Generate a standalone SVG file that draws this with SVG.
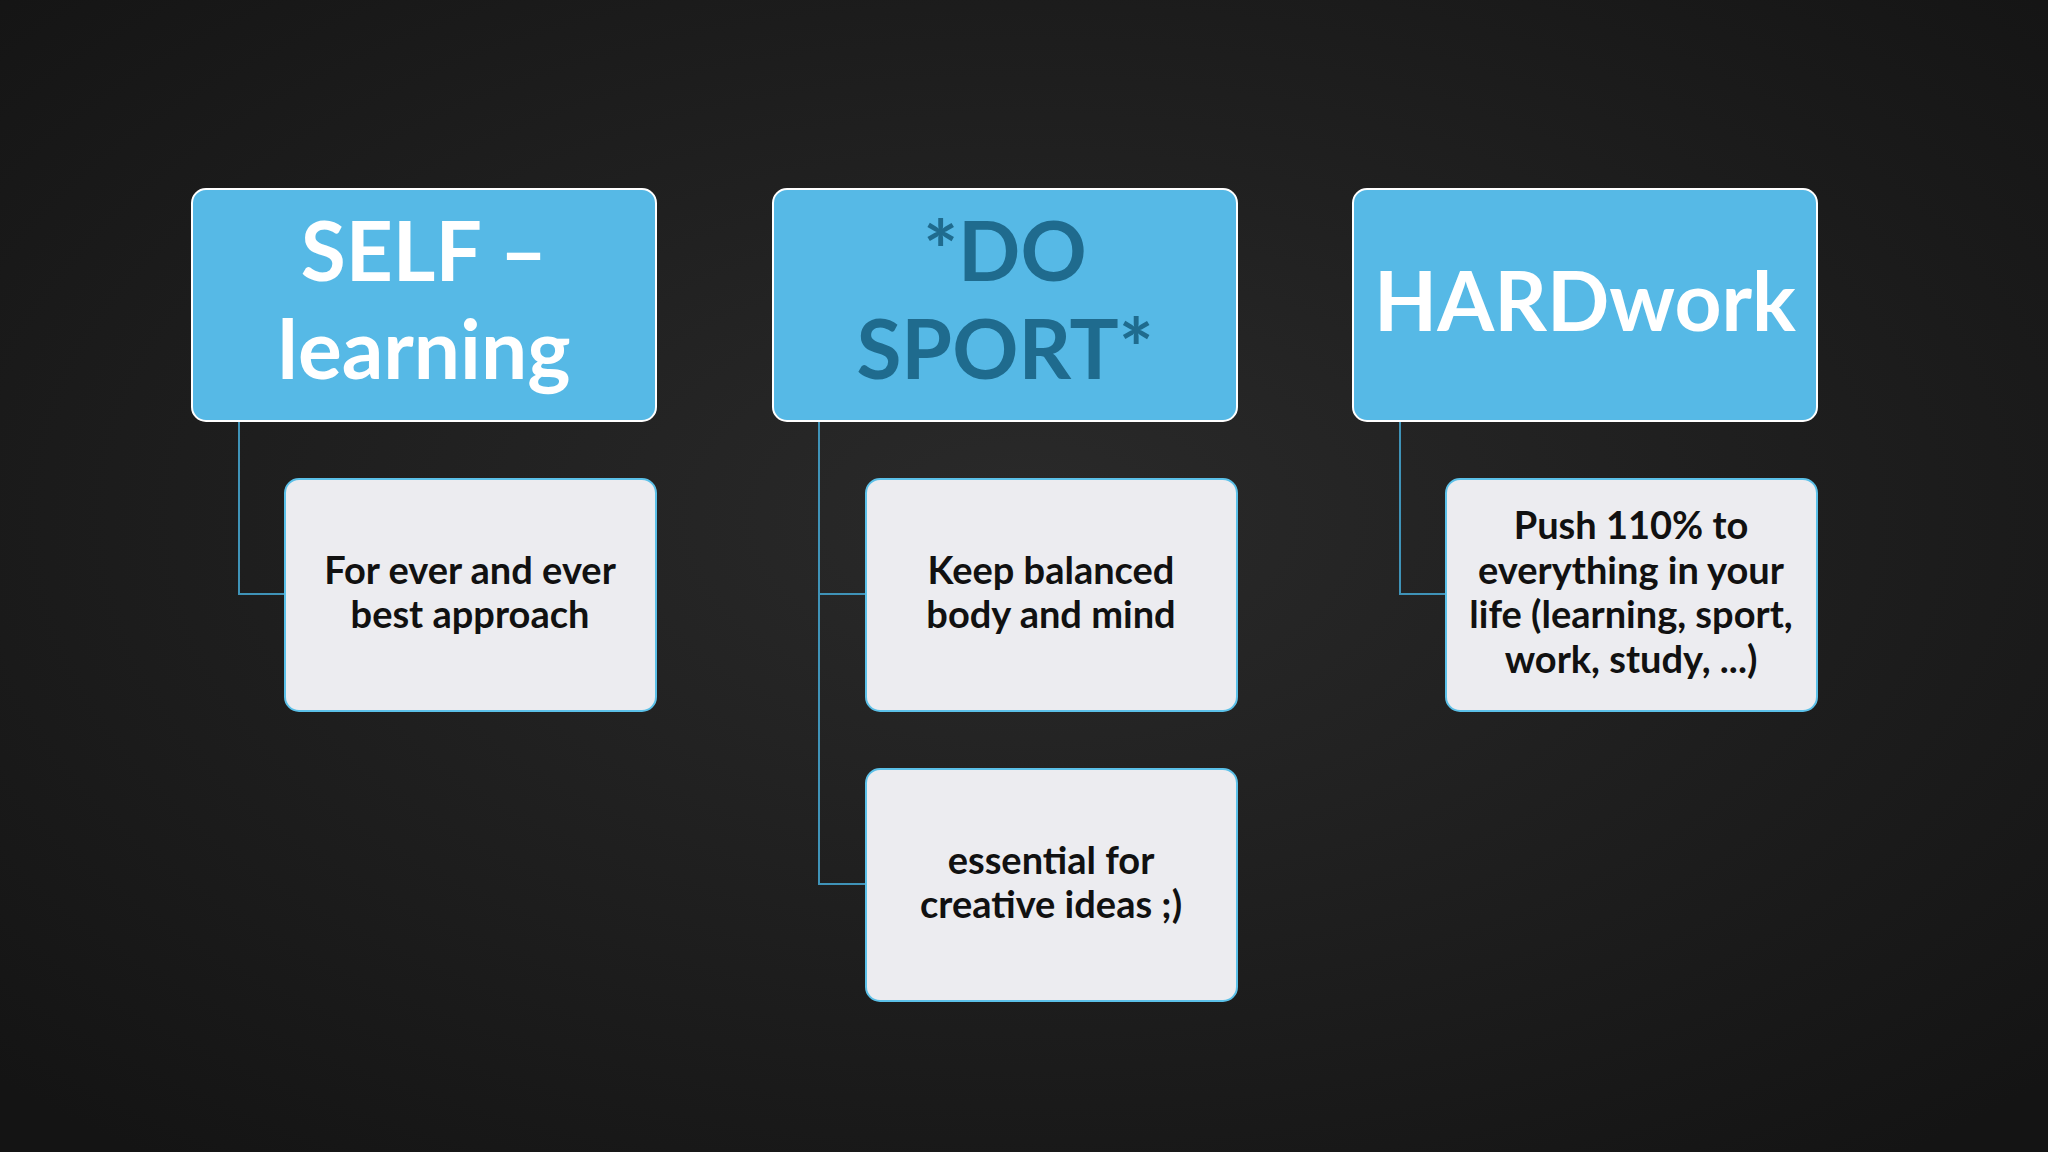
<svg xmlns="http://www.w3.org/2000/svg" width="2048" height="1152" viewBox="0 0 2048 1152">
<defs>
<radialGradient id="bg" cx="50%" cy="45%" r="70%">
<stop offset="0" stop-color="#2a2a2a"/><stop offset="1" stop-color="#141414"/>
</radialGradient>
<style>
.head{fill:#56b9e6;stroke:#ffffff;stroke-width:2}
.child{fill:#ececf0;stroke:#5bc0e8;stroke-width:2}
.ht{font-family:Lato,"Open Sans",sans-serif;font-weight:bold;font-size:82px;fill:#ffffff;text-anchor:middle}
.ct{font-family:Lato,"Open Sans",sans-serif;font-weight:bold;font-size:38px;fill:#111111;text-anchor:middle}
.con{fill:none;stroke:#3f93b8;stroke-width:2}
</style>
</defs>
<rect width="2048" height="1152" fill="url(#bg)"/>
<g id="connectors">
<path class="con" d="M239 421 V594 H285"/>
<path class="con" d="M819 421 V884 H866 M819 594 H866"/>
<path class="con" d="M1400 421 V594 H1446"/>
</g>
<g id="h1"><rect class="head" x="192" y="189" width="464" height="232" rx="14"/>
<text class="ht" x="424" y="281">SELF –</text><text class="ht" x="424" y="379">learning</text></g>
<g id="h2"><rect class="head" x="773" y="189" width="464" height="232" rx="14"/>
<text class="ht" x="1005" y="281" style="fill:#1f6b8e">*DO</text><text class="ht" x="1005" y="379" style="fill:#1f6b8e">SPORT*</text></g>
<g id="h3"><rect class="head" x="1353" y="189" width="464" height="232" rx="14"/>
<text class="ht" x="1585" y="331">HARDwork</text></g>
<g id="c1"><rect class="child" x="285" y="479" width="371" height="232" rx="14"/>
<text class="ct" x="470" y="584">For ever and ever</text><text class="ct" x="470" y="628">best approach</text></g>
<g id="c2"><rect class="child" x="866" y="479" width="371" height="232" rx="14"/>
<text class="ct" x="1051" y="584">Keep balanced</text><text class="ct" x="1051" y="628">body and mind</text></g>
<g id="c3"><rect class="child" x="866" y="769" width="371" height="232" rx="14"/>
<text class="ct" x="1051" y="874">essential for</text><text class="ct" x="1051" y="918">creative ideas ;)</text></g>
<g id="c4"><rect class="child" x="1446" y="479" width="371" height="232" rx="14"/>
<text class="ct" x="1631" y="539">Push 110% to</text><text class="ct" x="1631" y="584">everything in your</text>
<text class="ct" x="1631" y="628">life (learning, sport,</text><text class="ct" x="1631" y="673">work, study, ...)</text></g>
</svg>
